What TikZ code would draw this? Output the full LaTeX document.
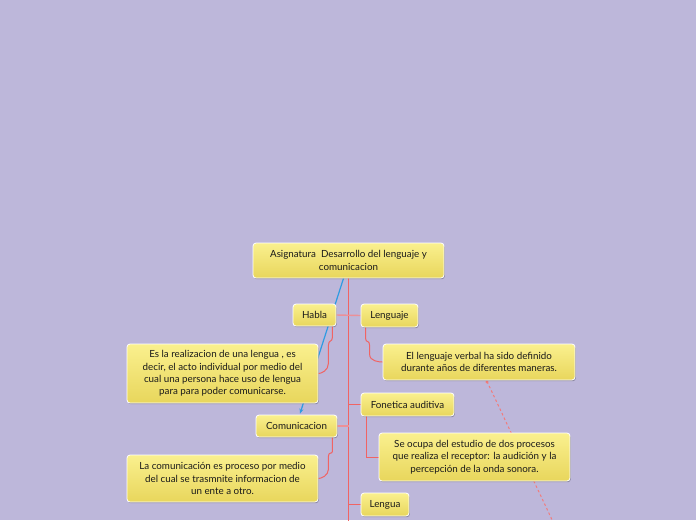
\documentclass[tikz,border=0pt]{standalone}
\usepackage{fontspec}
\setmainfont{Lato}
\usetikzlibrary{calc,shadows,arrows.meta}
\definecolor{bgc}{HTML}{BDB7DA}
\definecolor{boxtop}{HTML}{FAF08E}
\definecolor{boxbot}{HTML}{E8D65C}
\definecolor{txt}{HTML}{1A1A1A}
\definecolor{redc}{HTML}{F06464}
\definecolor{pinkc}{HTML}{EC9098}
\definecolor{bluec}{HTML}{2F9BE2}
\pgfdeclarelayer{bg}
\pgfsetlayers{bg,main}
\tikzset{
  box/.style={rounded corners=3pt, draw=white, line width=0.8pt,
    top color=boxtop, bottom color=boxbot, inner sep=0pt, align=center,
    text=txt, font=\fontsize{9.8}{12.3}\selectfont,
    drop shadow={shadow xshift=0.8pt, shadow yshift=-1.2pt, opacity=0.25, fill=black}},
  redline/.style={draw=redc, line width=1pt},
  pinkline/.style={draw=pinkc, line width=1.4pt},
  blueline/.style={draw=bluec, line width=1.2pt},
  dashline/.style={draw=redc!85!white, line width=1pt, dash pattern=on 2.5pt off 2.5pt}
}
\begin{document}
\begin{tikzpicture}[x=1pt,y=-1pt]
\begin{pgfonlayer}{bg}
\fill[bgc] (0,0) rectangle (696,520);
\end{pgfonlayer}
\useasboundingbox (0,0) rectangle (696,520);

\node[box, minimum width=191pt, minimum height=35pt] (root) at (348.5,260.5)
  {Asignatura\ \ Desarrollo del lenguaje y\\comunicacion};
\node[box, minimum width=43pt, minimum height=22pt] (habla) at (314.5,315) {Habla};
\node[box, minimum width=57pt, minimum height=23pt] (lenguaje) at (389.5,315.5) {Lenguaje};
\node[box, minimum width=191pt, minimum height=59pt] (hdesc) at (222.5,373.5)
  {Es la realizacion de una lengua , es\\decir, el acto individual por medio del\\cual una persona hace uso de lengua\\para para poder comunicarse.};
\node[box, minimum width=192pt, minimum height=36pt] (ldesc) at (479,362)
  {El lenguaje verbal ha sido definido\\durante años de diferentes maneras.};
\node[box, minimum width=93pt, minimum height=23pt] (fon) at (407.5,404.5) {Fonetica auditiva};
\node[box, minimum width=191pt, minimum height=48pt] (fdesc) at (474.5,457)
  {Se ocupa del estudio de dos procesos\\que realiza el receptor: la audición y la\\percepción de la onda sonora.};
\node[box, minimum width=81pt, minimum height=22pt] (com) at (296.5,426) {Comunicacion};
\node[box, minimum width=191pt, minimum height=47pt] (cdesc) at (222.5,478.5)
  {La comunicación es proceso por medio\\del cual se trasmnite informacion de\\un ente a otro.};
\node[box, minimum width=48pt, minimum height=23pt] (lengua) at (385,504.5) {Lengua};

\coordinate (tend) at (0,522);
\coordinate (dend) at (554,524);

\begin{pgfonlayer}{bg}
% trunk
\draw[redline] (root.south) -- (root.south |- tend);
% horizontal branches
\draw[pinkline] (habla.east) -- (lenguaje.west);
\draw[pinkline] (com.east) -- (com.east -| root.south);
\draw[redline] (fon.west) -- (fon.west -| root.south);
\draw[redline] (lengua.west) -- (lengua.west -| root.south);
% blue arrow
\draw[blueline, -{Stealth[length=5pt,width=4pt]}] ($(root.south)+(-5,0)$) -- ($(com.north)+(3.5,-1)$);
% description connectors
\draw[redline] ($(habla.south east)+(-4,0)$) -- ++(0,11)
  .. controls +(0,5) and +(0,-6) .. ++(-4,8) -- ++(0,18)
  .. controls +(0,7) and +(3,0) .. (hdesc.east);
\draw[redline] ($(lenguaje.south west)+(5,0)$) -- ++(0,11)
  .. controls +(0,5) and +(0,-6) .. ++(4,7) -- ++(0,9)
  .. controls +(0,7) and +(-3,0) .. (ldesc.west);
\draw[redline] ($(com.south east)+(-5,0)$) -- ++(0,14)
  .. controls +(0,3) and +(0,-5) .. ++(-4,5) -- ++(0,13)
  .. controls +(0,6) and +(3,0) .. (cdesc.east);
\draw[redline] ($(fon.south west)+(5.5,0)$) |- (fdesc.west);
% dashed link
\draw[dashline] ($(ldesc.south)+(8,1)$) -- (dend);
\fill[redc!85!white] ($(ldesc.south)+(8,1.5)$) circle (1.6pt);
\end{pgfonlayer}
\end{tikzpicture}
\end{document}
